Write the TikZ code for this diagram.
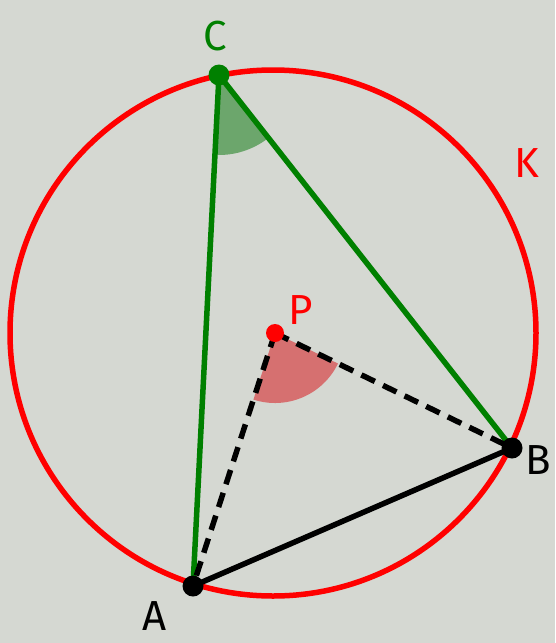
\documentclass[tikz,border=0pt]{standalone}
\usepackage{fontspec}
\setmainfont{Fira Sans}
\definecolor{bg}{RGB}{213,216,210}
\definecolor{kred}{RGB}{255,0,0}
\definecolor{cgreen}{RGB}{0,128,0}
\definecolor{gfill}{RGB}{108,166,108}
\definecolor{rfill}{RGB}{214,112,112}
\tikzset{
  lbl/.style={font=\fontsize{42}{42}\selectfont},
  dotc/.style={circle,fill,inner sep=0pt,minimum size=21pt},
  seg/.style={line width=5.5pt,line cap=round},
}
\begin{document}
\begin{tikzpicture}[x=1pt,y=-1pt]
\fill[bg] (0,0) rectangle (555,643);
\useasboundingbox (0,0) rectangle (555,643);
\coordinate (O) at (273,333);
\coordinate (Cc) at (219,75);
\coordinate (Bc) at (512,448);
\coordinate (Ac) at (193,586);
\coordinate (Pc) at (275,333);
% angle fills
\fill[gfill] (Cc) -- ++({atan2(511,-26)}:80) arc[start angle={atan2(511,-26)}, end angle={atan2(373,293)}, radius=80] -- cycle;
\fill[rfill] (Pc) -- ++({atan2(253,-82)}:70) arc[start angle={atan2(253,-82)}, end angle={atan2(115,237)}, radius=70] -- cycle;
% circle
\draw[kred,line width=5.5pt] (O) circle[radius=263];
% lines
\draw[seg,cgreen] (Cc) -- (Ac);
\draw[seg,cgreen] (Cc) -- (Bc);
\draw[seg,black] (Ac) -- (Bc);
\draw[seg,black,line cap=butt,dash pattern=on 15pt off 9pt] (Pc) -- (Ac);
\draw[seg,black,line cap=butt,dash pattern=on 15pt off 9pt] (Pc) -- (Bc);
% points
\node[dotc,cgreen] (C) at (Cc) {};
\node[dotc,black] (B) at (Bc) {};
\node[dotc,black] (A) at (Ac) {};
\node[dotc,kred,minimum size=18pt] (P) at (Pc) {};
% labels
\node[lbl,cgreen] (lC) at (215,36) {C};
\node[lbl,kred] (lK) at (527,163) {K};
\node[lbl,kred] (lP) at (301,310) {P};
\node[lbl,black] (lB) at (538,460) {B};
\node[lbl,black] (lA) at (155,616) {A};
\end{tikzpicture}
\end{document}
